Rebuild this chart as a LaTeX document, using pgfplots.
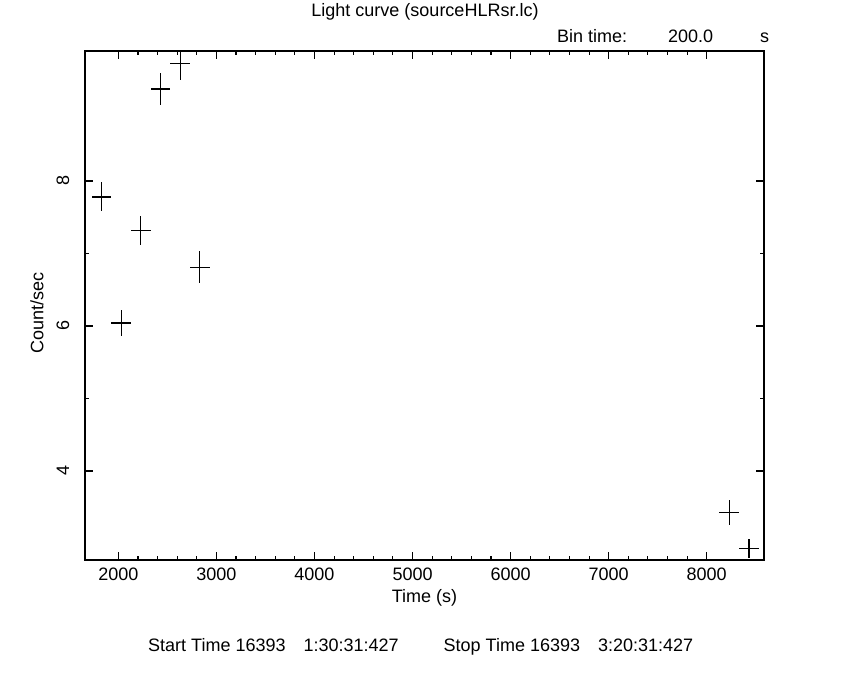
\documentclass[border=0pt]{standalone}
\usepackage{pgfplots}
\pgfplotsset{compat=1.18}
\usepackage{fontspec}
\setmainfont{Liberation Sans}
\begin{document}
\begin{tikzpicture}[x=1pt,y=1pt,font=\fontsize{18}{21}\selectfont]
\path[use as bounding box] (0,0) rectangle (850,680);
\begin{axis}[
  at={(85pt,120pt)}, anchor=south west,
  scale only axis, width=679pt, height=509pt,
  xmin=1660, xmax=8584, ymin=2.772, ymax=9.793,
  xtick={2000,3000,...,8000},
  minor x tick num=4,
  ytick={4,6,8}, minor y tick num=1,
  tick align=inside,
  major tick length=8pt, minor tick length=4pt,
  axis line style={line width=1.1pt},
  every tick/.style={black, line width=1.1pt},
  tick label style={font=\fontsize{18}{21}\selectfont},
  /pgf/number format/assume math mode=true,
  /pgf/number format/1000 sep={},
  xticklabel style={anchor=center, yshift=-14pt},
  yticklabel style={rotate=90, anchor=center, yshift=22pt},
  xlabel={Time (s)}, ylabel={Count/sec},
  xlabel style={at={(axis description cs:0.5,-0.0747)}, anchor=center},
  ylabel style={at={(axis description cs:-0.0707,0.485)}, anchor=center},
  label style={font=\fontsize{18}{21}\selectfont},
]
\addplot[draw=none, mark=none,
  error bars/.cd, x dir=both, x explicit, y dir=both, y explicit,
  error mark=none,
  error bar style={draw=black, line width=1.2pt}]
  table[x=t, y=r, x error=dt, y error=dr] {
t     r     dt   dr
1830  7.78  100  0.20
2030  6.04  100  0.18
2230  7.32  100  0.20
2430  9.27  100  0.22
2630  9.62  100  0.23
2830  6.81  100  0.22
8230  3.43  100  0.17
8430  2.93  100  0.13
};
\end{axis}
\node at (425,668) {Light curve (sourceHLRsr.lc)};
\node[anchor=base west, inner sep=0pt] at (557,637) {Bin time:};
\node[anchor=base west, inner sep=0pt] at (668,637) {200.0};
\node[anchor=base west, inner sep=0pt] at (760,637) {s};
\node[anchor=base west, inner sep=0pt] at (148,29) {Start Time 16393\hspace{1em}1:30:31:427\hspace{2.5em}Stop Time 16393\hspace{1em}3:20:31:427};
\end{tikzpicture}
\end{document}
